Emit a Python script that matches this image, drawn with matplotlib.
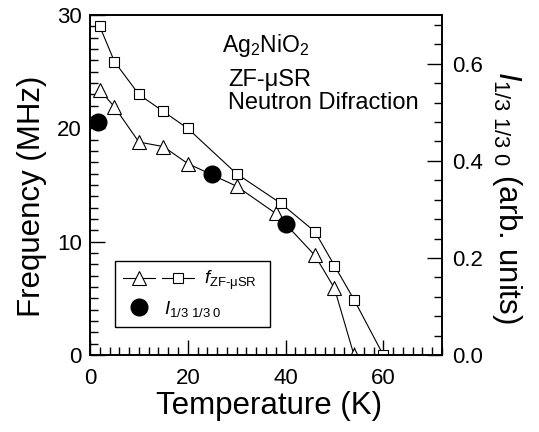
import numpy as np
import matplotlib.pyplot as plt
import matplotlib.transforms as mtransforms
from matplotlib.lines import Line2D
from matplotlib.legend_handler import HandlerTuple

plt.rcParams['font.family'] = ['Liberation Sans', 'DejaVu Sans']
plt.rcParams['mathtext.fontset'] = 'custom'
plt.rcParams['mathtext.rm'] = 'Liberation Sans'
plt.rcParams['mathtext.it'] = 'Liberation Sans:italic'

# ZF-muSR frequencies (two components)
T_sq = [2, 5, 10, 15, 20, 30, 39, 46, 50, 54, 60]
f_sq = [29.0, 25.9, 23.0, 21.5, 20.0, 16.0, 13.4, 10.9, 7.9, 4.9, 0.0]
T_tri = [2, 5, 10, 15, 20, 30, 38, 46, 50, 54]
f_tri = [23.4, 21.9, 18.8, 18.4, 16.9, 14.9, 12.5, 8.8, 5.9, 0.0]
# neutron diffraction intensity (right axis)
T_nd = [1.7, 25, 40]
I_nd = [0.480, 0.373, 0.269]

fig = plt.figure(figsize=(5.39, 4.32), dpi=100)
ax = fig.add_axes([0.167, 0.178, 0.653, 0.787])
ax2 = ax.twinx()

tri, = ax.plot(T_tri, f_tri, '-^', color='black', lw=0.8, ms=10,
               mfc='white', mec='black', mew=0.8)
sq, = ax.plot(T_sq, f_sq, '-s', color='black', lw=0.8, ms=7,
              mfc='white', mec='black', mew=0.8)
circ, = ax2.plot(T_nd, I_nd, 'o', color='black', ms=12, zorder=5)

ax.set_xlim(0, 72)
ax.set_ylim(0, 30)
ax2.set_ylim(0, 0.7)

ax.set_xticks([0, 20, 40, 60])
ax.set_xticks(np.arange(0, 73, 2), minor=True)
ax.set_yticks([0, 10, 20, 30])
ax.set_yticks(np.arange(0, 31, 1), minor=True)
ax2.set_yticks([0.0, 0.2, 0.4, 0.6])
ax2.set_yticks(np.arange(0, 0.701, 0.04), minor=True)
ax2.set_yticklabels(['0.0', '0.2', '0.4', '0.6'])

ax.tick_params(axis='both', which='major', direction='in', length=11,
               width=1.0, labelsize=16, top=False, right=False)
ax.tick_params(axis='both', which='minor', direction='in', length=6,
               width=1.0, top=False, right=False)
ax.tick_params(axis='x', which='major', pad=9)
ax.tick_params(axis='y', which='major', pad=6)
ax2.tick_params(axis='y', which='major', direction='in', length=11,
                width=1.0, labelsize=16, pad=7)
ax2.tick_params(axis='y', which='minor', direction='in', length=6, width=1.0)

for a in (ax, ax2):
    for s in a.spines.values():
        s.set_linewidth(1.2)

ax.set_xlabel('Temperature (K)', fontsize=22.5, labelpad=2)
ax.set_ylabel('Frequency (MHz)', fontsize=22.5, labelpad=7)
ax2.set_ylabel(r'$I_{\text{1/3 1/3 0}}$ (arb. units)', fontsize=22.5,
               rotation=270, labelpad=30)
ax.xaxis.label.set_x(0.509)
ax.yaxis.label.set_y(0.468)
ax2.yaxis.label.set_y(0.465)

ax.text(0.374, 0.912, r'Ag$_2$NiO$_2$', transform=ax.transAxes,
        fontsize=16.5, ha='left', va='center')
ax.text(0.392, 0.809, 'ZF-μSR', transform=ax.transAxes,
        fontsize=17, ha='left', va='center')
ax.text(0.392, 0.741, 'Neutron Difraction', transform=ax.transAxes,
        fontsize=17, ha='left', va='center')

blank = Line2D([], [], linestyle='none', marker='none')
leg = ax.legend([(tri, sq), (circ, blank)],
                [r'$f_{\text{ZF-μSR}}$', r'$I_{\text{1/3 1/3 0}}$'],
                handler_map={tuple: HandlerTuple(ndivide=None, pad=0.4)},
                loc='lower left', bbox_to_anchor=(0.071, 0.082),
                borderaxespad=0, fontsize=13.5, handlelength=3.75,
                handletextpad=0.55, fancybox=False, framealpha=1,
                edgecolor='black', labelspacing=0.35, borderpad=0.45)
leg.get_frame().set_linewidth(1.0)
# the intensity label sits closer to its marker than the frequency label
txt = leg.get_texts()[1]
txt.set_transform(txt.get_transform() +
                  mtransforms.ScaledTranslation(-0.40, 0, fig.dpi_scale_trans))

fig.savefig('out.png', dpi=100)
